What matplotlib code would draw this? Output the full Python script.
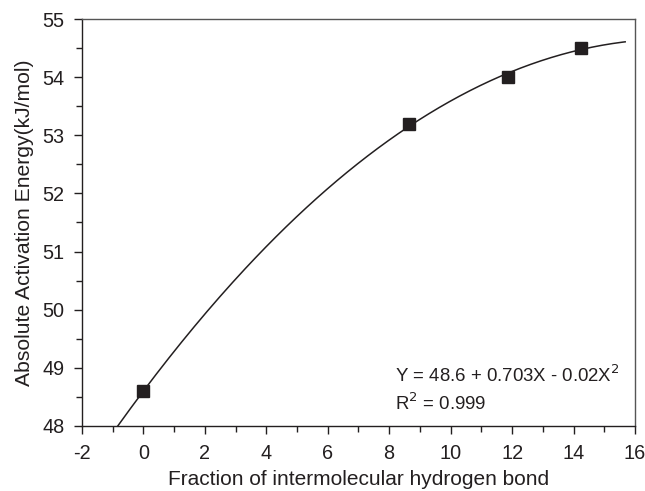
import matplotlib
matplotlib.use("Agg")
import matplotlib.pyplot as plt
import numpy as np
from matplotlib.ticker import MultipleLocator

plt.rcParams['font.family'] = ['Liberation Sans', 'DejaVu Sans']
plt.rcParams['axes.unicode_minus'] = False

# data points
x_points = [0.0, 8.66, 11.88, 14.25]
y_points = [48.61, 53.2, 54.0, 54.5]

# fitted curve (quadratic, as drawn): Y = b0 + b1*X + b2*X^2
fit_coef = [48.6, 0.703, -0.0204]
fit_xrange = [-0.83, 15.68]

x_ticks = [-2, 0, 2, 4, 6, 8, 10, 12, 14, 16]
y_ticks = [48, 49, 50, 51, 52, 53, 54, 55]

fig = plt.figure(figsize=(6.45, 4.91), dpi=100)
ax = fig.add_axes([0.127, 0.1324, 0.8575, 0.8289])

xc = np.linspace(fit_xrange[0], fit_xrange[1], 200)
yc = fit_coef[0] + fit_coef[1] * xc + fit_coef[2] * xc ** 2
ax.plot(xc, yc, color='#231f20', lw=1.1)
ax.plot(x_points, y_points, 's', color='#231f20', markersize=8, linestyle='none')

ax.set_xlim(-2, 16)
ax.set_ylim(48, 55)
ax.set_xticks(x_ticks)
ax.set_yticks(y_ticks)
ax.xaxis.set_minor_locator(MultipleLocator(1))
ax.yaxis.set_minor_locator(MultipleLocator(0.5))
ax.tick_params(which='major', direction='out', length=6, width=1, labelsize=14.3, colors='#231f20')
ax.tick_params(axis='x', which='major', pad=7)
ax.tick_params(axis='y', which='major', pad=6.5)
ax.tick_params(which='minor', direction='out', length=4, width=1, colors='#231f20')
ax.tick_params(top=False, right=False, which='both')

for s in ['left', 'bottom']:
    ax.spines[s].set_color('#231f20')
    ax.spines[s].set_linewidth(1)
for s in ['top', 'right']:
    ax.spines[s].set_color('#555555')
    ax.spines[s].set_linewidth(1)

ax.set_xlabel('Fraction of intermolecular hydrogen bond', fontsize=15, color='#231f20', labelpad=5)
ax.set_ylabel('Absolute Activation Energy(kJ/mol)', fontsize=15.2, color='#231f20', labelpad=6)

ax.text(8.2, 48.76, r'Y = 48.6 + 0.703X - 0.02X$^2$', fontsize=13.4, color='#231f20',
        ha='left', va='baseline')
ax.text(8.2, 48.28, r'R$^2$ = 0.999', fontsize=13.4, color='#231f20', ha='left', va='baseline')

fig.savefig('out.png', dpi=100)
